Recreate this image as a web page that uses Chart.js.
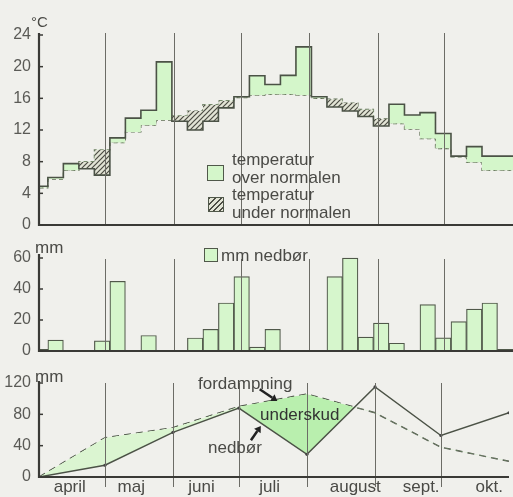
<!DOCTYPE html>
<html>
<head>
<meta charset="utf-8">
<script src="https://cdn.jsdelivr.net/npm/chart.js@4.4.1/dist/chart.umd.min.js"></script>
<style>
  html, body { margin: 0; padding: 0; background: #f0f0ec; }
  #wrap { position: relative; width: 513px; height: 497px; overflow: hidden;
          font-family: 'Liberation Sans', Arial, sans-serif; color: #4a4a46; }
  canvas { position: absolute; left: 0; }
  .lbl { position: absolute; white-space: nowrap; line-height: 1; font-size: 17px; }
  .box { position: absolute; box-sizing: border-box; border: 1.5px solid #50584a; background: #d4f6ca; }
  .hatch { background: repeating-linear-gradient(135deg, #4c4c44 0 1.3px, #e2e4d5 1.3px 4px); }
</style>
</head>
<body>
<div id="wrap">
  <canvas id="tempChart" style="top:0" width="513" height="232"></canvas>
  <canvas id="rainChart" style="top:240px" width="513" height="120"></canvas>
  <canvas id="balanceChart" style="top:365px" width="513" height="132"></canvas>

  <div class="lbl" style="left:31px;top:14px;font-size:15px">°C</div>
  <div class="box" style="left:207px;top:165px;width:17px;height:16px"></div>
  <div class="box hatch" style="left:208px;top:197px;width:16px;height:15px"></div>
  <div class="lbl" style="left:232px;top:151px">temperatur</div>
  <div class="lbl" style="left:232px;top:169px">over normalen</div>
  <div class="lbl" style="left:232px;top:186px">temperatur</div>
  <div class="lbl" style="left:232px;top:204px">under normalen</div>

  <div class="lbl" style="left:35px;top:239px">mm</div>
  <div class="box" style="left:204px;top:248px;width:14px;height:14px"></div>
  <div class="lbl" style="left:221px;top:247px">mm nedbør</div>

  <div class="lbl" style="left:35px;top:368px">mm</div>
  <div class="lbl" style="left:198px;top:375px">fordampning</div>
  <div class="lbl" style="left:260px;top:406px;color:#333">underskud</div>
  <div class="lbl" style="left:208px;top:439px">nedbør</div>
</div>

<script>
// days counted from 1 April
const months = ['april', 'maj', 'juni', 'juli', 'august', 'sept.', 'okt.'];
const monthStarts = [0, 30, 61, 91, 122, 153, 183, 214];
const weekStarts = [0, 4, 11, 18, 25, 32, 39, 46, 53, 60, 67, 74, 81, 88, 95, 102,
                    109, 116, 123, 130, 137, 144, 151, 158, 165, 172, 179, 186, 193, 200, 207, 214];

// weekly mean temperature (°C)
const tempActual = [5.7, 4.9, 6.0, 7.75, 7.1, 6.3, 11.0, 13.5, 14.5, 20.6, 13.1, 12.0, 13.1, 14.8, 16.2, 18.85,
                    17.75, 18.9, 22.5, 16.2, 14.9, 14.4, 13.7, 12.5, 15.25, 13.9, 14.2, 11.55, 8.7, 9.9, 8.7];
const tempNormal = [3.9, 4.7, 5.8, 6.9, 8.0, 9.5, 10.4, 11.75, 12.6, 13.25, 13.8, 14.4, 15.2, 15.7, 16.1, 16.4,
                    16.5, 16.5, 16.4, 16.0, 15.9, 15.4, 14.6, 13.4, 12.8, 12.1, 10.9, 9.65, 8.6, 7.9, 6.9];
// weekly precipitation (mm)
const rainWeek = [1, 7, 0, 0, 6.5, 45, 0, 10, 0, 0, 8.4, 14, 31, 48, 2.5, 14,
                  0, 0, 0, 48, 60, 9, 18, 5, 0, 30, 8.5, 19, 27, 31, 1];
// monthly totals at month ends (mm)
const rainMonth = [0, 15, 57, 88, 29, 115, 53, 82];
const evapMonth = [0, 50, 63, 90, 106, 82, 38, 20];

const tempTicks = [0, 4, 8, 12, 16, 20, 24];
const rainTicks = [0, 20, 40, 60];
const balanceTicks = [0, 40, 80, 120];

// layout
const LEFT = 39;
const DAYS = 214;
const pxPerDay = (513 - LEFT) / DAYS;
const monthLabelDays = [14, 42, 74, 105, 144, 174, 205];
const FONT = "'Liberation Sans', Arial, sans-serif";
const INK = '#4b5246';

function stepPoints(values) {
    const pts = values.map((v, i) => ({ x: weekStarts[i], y: v }));
    pts.push({ x: weekStarts[values.length], y: values[values.length - 1] });
    return pts;
}

function makeHatch(ctx) {
    const c = document.createElement('canvas');
    c.width = 5; c.height = 5;
    const g = c.getContext('2d');
    g.fillStyle = '#e2e4d5';
    g.fillRect(0, 0, 5, 5);
    g.strokeStyle = '#4c4c44';
    g.lineWidth = 1.2;
    g.beginPath();
    g.moveTo(-1, 6); g.lineTo(6, -1);
    g.moveTo(-1, 1); g.lineTo(1, -1);
    g.moveTo(4, 6); g.lineTo(6, 4);
    g.stroke();
    return ctx.createPattern(c, 'repeat');
}

// axes, inner ticks and month separators
const framePlugin = {
    id: 'frame',
    afterDatasetsDraw(chart, args, opts) {
        const { ctx, chartArea: a, scales: { x, y } } = chart;
        ctx.save();
        ctx.strokeStyle = '#6c6c66';
        ctx.lineWidth = 1;
        monthStarts.slice(1, -1).forEach(d => {
            const px = Math.round(x.getPixelForValue(d)) + 0.5;
            ctx.beginPath();
            ctx.moveTo(px, a.top + opts.gap);
            ctx.lineTo(px, a.bottom + opts.below);
            ctx.stroke();
        });
        ctx.strokeStyle = '#3a3a36';
        ctx.lineWidth = 2.2;
        ctx.beginPath();
        ctx.moveTo(a.left, a.top - 2);
        ctx.lineTo(a.left, a.bottom);
        ctx.lineTo(a.right, a.bottom);
        ctx.stroke();
        ctx.lineWidth = 1.5;
        y.ticks.forEach(t => {
            const py = y.getPixelForValue(t.value);
            ctx.beginPath();
            ctx.moveTo(a.left, py);
            ctx.lineTo(a.left + 4, py);
            ctx.stroke();
        });
        ctx.restore();
    }
};

// two small arrows in the water balance panel
const arrowPlugin = {
    id: 'arrows',
    afterDatasetsDraw(chart, args, opts) {
        if (!opts.list) return;
        const { ctx, scales: { x, y } } = chart;
        ctx.save();
        ctx.fillStyle = '#222';
        ctx.strokeStyle = '#222';
        ctx.lineWidth = 2.5;
        opts.list.forEach(([d0, v0, d1, v1]) => {
            const x0 = x.getPixelForValue(d0), y0 = y.getPixelForValue(v0);
            const x1 = x.getPixelForValue(d1), y1 = y.getPixelForValue(v1);
            const ang = Math.atan2(y1 - y0, x1 - x0);
            const hx = x1 - 6 * Math.cos(ang), hy = y1 - 6 * Math.sin(ang);
            ctx.beginPath();
            ctx.moveTo(x0, y0);
            ctx.lineTo(hx, hy);
            ctx.stroke();
            ctx.beginPath();
            ctx.moveTo(x1, y1);
            ctx.lineTo(hx + 4 * Math.sin(ang), hy - 4 * Math.cos(ang));
            ctx.lineTo(hx - 4 * Math.sin(ang), hy + 4 * Math.cos(ang));
            ctx.closePath();
            ctx.fill();
        });
        ctx.restore();
    }
};

function xScale(showLabels) {
    const s = {
        type: 'linear', min: 0, max: DAYS, offset: false,
        display: showLabels,
        grid: { display: false, drawTicks: false },
        border: { display: false }
    };
    if (showLabels) {
        s.afterBuildTicks = scale => { scale.ticks = monthLabelDays.map(v => ({ value: v })); };
        s.afterFit = scale => {
            scale.height = 20;
            scale.paddingLeft = 0;
            scale.paddingRight = 0;
        };
        s.ticks = {
            autoSkip: false, maxRotation: 0, padding: 0,
            color: '#4a4a46', font: { family: FONT, size: 17 },
            callback: (v, i) => months[i]
        };
    }
    return s;
}

function yScale(max, tickList) {
    return {
        min: 0, max: max,
        afterBuildTicks: scale => { scale.ticks = tickList.map(v => ({ value: v })); },
        afterFit: scale => {
            scale.width = LEFT;
            scale.paddingTop = 0;
            scale.paddingBottom = 0;
        },
        grid: { display: false, drawTicks: false },
        border: { display: false },
        ticks: { padding: 8, color: '#5a5a56', font: { family: FONT, size: 16 } }
    };
}

const common = {
    responsive: false,
    animation: false,
    plugins: { legend: { display: false }, tooltip: { enabled: false } }
};

// temperature panel
const tempCtx = document.getElementById('tempChart').getContext('2d');
new Chart(tempCtx, {
    type: 'line',
    data: {
        datasets: [{
            label: 'temperatur',
            data: stepPoints(tempActual),
            stepped: 'after',
            borderColor: INK,
            borderWidth: 1.6,
            pointRadius: 0,
            fill: { target: 1, above: '#d4f6ca', below: makeHatch(tempCtx) }
        }, {
            label: 'normal',
            data: stepPoints(tempNormal),
            stepped: 'after',
            borderColor: '#5d6e52',
            borderWidth: 1.2,
            borderDash: [4, 3],
            pointRadius: 0,
            fill: false
        }]
    },
    options: {
        ...common,
        layout: { padding: { top: 35, bottom: 7, left: 0, right: 0 } },
        scales: { x: xScale(false), y: yScale(24, tempTicks) },
        plugins: { ...common.plugins, frame: { gap: -2, below: 0 } }
    },
    plugins: [framePlugin]
});

// weekly precipitation panel
const weekBars = rainWeek.map((v, i) => ({ x: (weekStarts[i] + weekStarts[i + 1]) / 2, y: v }));
new Chart(document.getElementById('rainChart'), {
    type: 'bar',
    data: {
        datasets: [{
            label: 'mm nedbør',
            data: weekBars.slice(0, 1),
            stack: 'rain',
            barThickness: (weekStarts[1] - weekStarts[0]) * pxPerDay,
            backgroundColor: '#a9c8a0',
            borderColor: '#50584a',
            borderWidth: 1.2,
            borderSkipped: false
        }, {
            label: 'mm nedbør',
            data: weekBars.slice(1),
            stack: 'rain',
            barThickness: 7 * pxPerDay,
            backgroundColor: '#d6f6cc',
            borderColor: '#50584a',
            borderWidth: 1.2,
            borderSkipped: false
        }]
    },
    options: {
        ...common,
        layout: { padding: { top: 16, bottom: 9, left: 0, right: 0 } },
        scales: { x: xScale(false), y: yScale(61.3, rainTicks) },
        plugins: { ...common.plugins, frame: { gap: 3, below: 0 } }
    },
    plugins: [framePlugin]
});

// monthly water balance panel
const balCtx = document.getElementById('balanceChart').getContext('2d');
const deficitFill = balCtx.createLinearGradient(LEFT + 86 * pxPerDay, 0, LEFT + 96 * pxPerDay, 0);
deficitFill.addColorStop(0, '#dbf5d1');
deficitFill.addColorStop(1, '#b9efae');
new Chart(balCtx, {
    type: 'line',
    data: {
        datasets: [{
            label: 'nedbør',
            data: monthStarts.map((d, i) => ({ x: d, y: rainMonth[i] })),
            borderColor: INK,
            borderWidth: 1.4,
            pointRadius: 1.6,
            pointBackgroundColor: '#444',
            pointBorderWidth: 0,
            tension: 0,
            fill: { target: 1, above: 'rgba(0,0,0,0)', below: deficitFill }
        }, {
            label: 'fordampning',
            data: monthStarts.map((d, i) => ({ x: d, y: evapMonth[i] })),
            borderColor: INK,
            borderWidth: 1.4,
            borderDash: [7, 5],
            pointRadius: 0,
            tension: 0,
            fill: false
        }]
    },
    options: {
        ...common,
        layout: { padding: { top: 18, bottom: 0, left: 0, right: 0 } },
        scales: { x: xScale(true), y: yScale(120, balanceTicks) },
        plugins: {
            ...common.plugins,
            frame: { gap: 0, below: 10 },
            arrows: { list: [[100.5, 112, 108.5, 97], [96.5, 47, 101, 65]] }
        }
    },
    plugins: [framePlugin, arrowPlugin]
});
</script>
</body>
</html>
